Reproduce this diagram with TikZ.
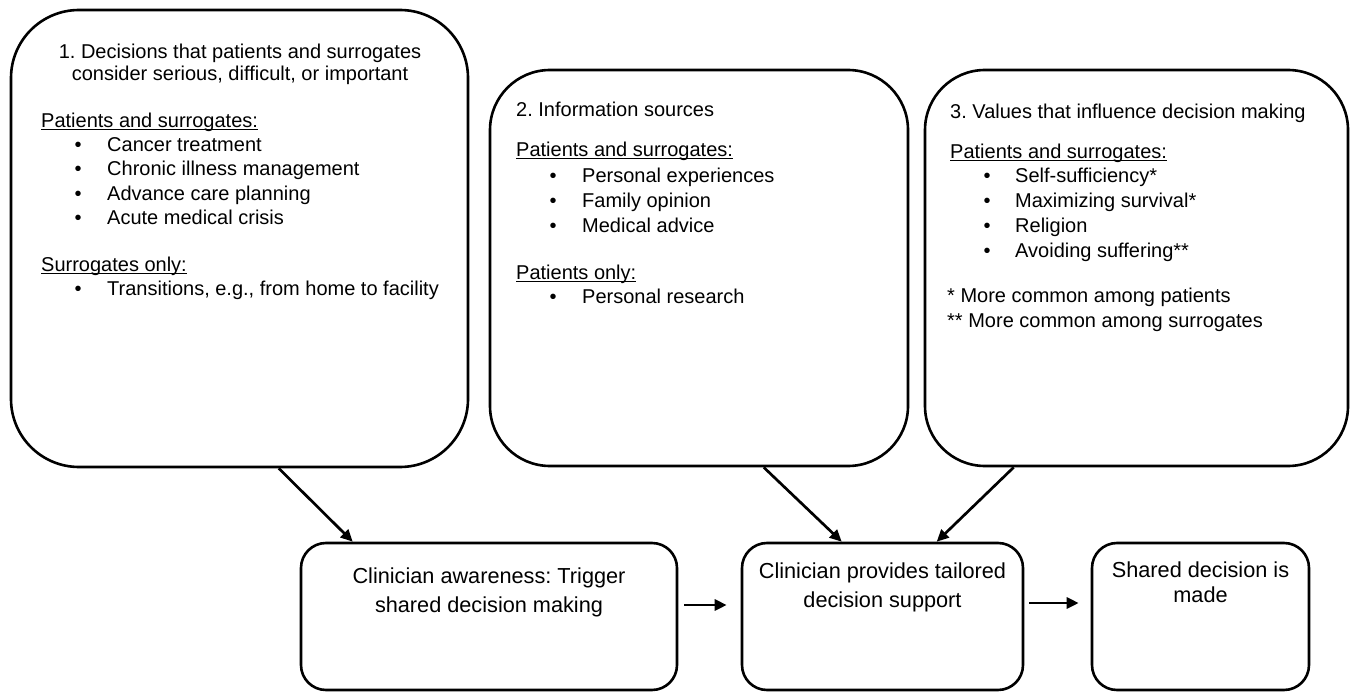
\documentclass[tikz,border=0pt]{standalone}
\usepackage{fontspec}
\setmainfont{Liberation Sans}
\usetikzlibrary{arrows.meta,calc}
\frenchspacing
\newcommand\myul[1]{\setbox0\hbox{#1}\rlap{\rule[-2.4pt]{\wd0}{1.3pt}}\box0}
\begin{document}
\frenchspacing
\begin{tikzpicture}[x=1pt,y=-1pt,
  bigbox/.style={draw,line width=2.6pt,inner sep=0pt},
  smallbox/.style={draw,line width=2.6pt,rounded corners=25pt,inner sep=0pt,minimum height=147pt},
  txt/.style={anchor=base west,inner sep=0pt,font=\fontsize{20}{24}\selectfont},
  ctxt/.style={anchor=base,inner sep=0pt,font=\fontsize{20}{24}\selectfont},
  btxt/.style={anchor=base,inner sep=0pt,font=\fontsize{21.7}{26}\selectfont},
  bul/.style={anchor=base,inner sep=0pt,font=\fontsize{20}{24}\selectfont},
  arr/.style={line width=2.7pt,-{Triangle[length=12pt,width=11pt]}}]
\useasboundingbox (0,0) rectangle (1354,692);

% upper boxes
\node[bigbox,rounded corners=68pt,minimum width=457pt,minimum height=457pt] (d1) at (239.5,238.5) {};
\node[bigbox,rounded corners=60pt,minimum width=418pt,minimum height=396pt] (d2) at (699,268) {};
\node[bigbox,rounded corners=60pt,minimum width=423pt,minimum height=396pt] (d3) at (1136.5,268) {};

% lower boxes
\node[smallbox,minimum width=376pt] (b1) at (489,616.5) {};
\node[smallbox,minimum width=281pt] (b2) at (882.5,616.5) {};
\node[smallbox,minimum width=217pt] (b3) at (1200.5,616.5) {};

% box 1 text
\node[ctxt] (t1h1) at (240,59) {1. Decisions that patients and surrogates};
\node[ctxt] (t1h2) at (240,81) {consider serious, difficult, or important};
\node[txt] (t1p) at (41,128) {\myul{Patients and surrogates:}};
\node[bul] (t1b1) at (78,152) {•};
\node[txt] (t1i1) at (107,152) {Cancer treatment};
\node[bul] (t1b2) at (78,176) {•};
\node[txt] (t1i2) at (107,176) {Chronic illness management};
\node[bul] (t1b3) at (78,201) {•};
\node[txt] (t1i3) at (107,201) {Advance care planning};
\node[bul] (t1b4) at (78,225) {•};
\node[txt] (t1i4) at (107,225) {Acute medical crisis};
\node[txt] (t1s) at (41,272) {\myul{Surrogates only:}};
\node[bul] (t1b5) at (78,296) {•};
\node[txt] (t1i5) at (107,296) {Transitions, e.g., from home to facility};

% box 2 text
\node[txt] (t2h) at (516,117) {2. Information sources};
\node[txt] (t2p) at (516,157) {\myul{Patients and surrogates:}};
\node[bul] (t2b1) at (553,183) {•};
\node[txt] (t2i1) at (582,183) {Personal experiences};
\node[bul] (t2b2) at (553,208) {•};
\node[txt] (t2i2) at (582,208) {Family opinion};
\node[bul] (t2b3) at (553,233) {•};
\node[txt] (t2i3) at (582,233) {Medical advice};
\node[txt] (t2s) at (516,280) {\myul{Patients only:}};
\node[bul] (t2b4) at (553,304) {•};
\node[txt] (t2i4) at (582,304) {Personal research};

% box 3 text
\node[txt] (t3h) at (950,119) {3. Values that influence decision making};
\node[txt] (t3p) at (950,159) {\myul{Patients and surrogates:}};
\node[bul] (t3b1) at (987,183) {•};
\node[txt] (t3i1) at (1015,183) {Self-sufficiency*};
\node[bul] (t3b2) at (987,208) {•};
\node[txt] (t3i2) at (1015,208) {Maximizing survival*};
\node[bul] (t3b3) at (987,233) {•};
\node[txt] (t3i3) at (1015,233) {Religion};
\node[bul] (t3b4) at (987,258) {•};
\node[txt] (t3i4) at (1015,258) {Avoiding suffering**};
\node[txt] (t3n1) at (947,303) {* More common among patients};
\node[txt] (t3n2) at (947,327) {** More common among surrogates};

% lower box text
\node[btxt] (u1a) at (489,583) {Clinician awareness: Trigger};
\node[btxt] (u1b) at (489,612) {shared decision making};
\node[btxt] (u2a) at (882.5,578) {Clinician provides tailored};
\node[btxt] (u2b) at (882.5,607) {decision support};
\node[btxt] (u3a) at (1200.5,577) {Shared decision is};
\node[btxt] (u3b) at (1200.5,602) {made};

% arrows
\draw[arr] ($(d1.south west)+(269,0)$) -- ($(b1.north west)+(53,0)$);
\draw[arr] ($(d2.south west)+(275,0)$) -- ($(b2.north west)+(101,0)$);
\draw[arr] ($(d3.south west)+(90,0)$) -- ($(b2.north west)+(196,0)$);
\draw[arr] ($(b1.east)+(6,-11.5)$) -- ($(b2.west)+(-14,-11.5)$);
\draw[arr] ($(b2.east)+(5,-13.5)$) -- ($(b3.west)+(-12,-13.5)$);
\end{tikzpicture}
\end{document}
